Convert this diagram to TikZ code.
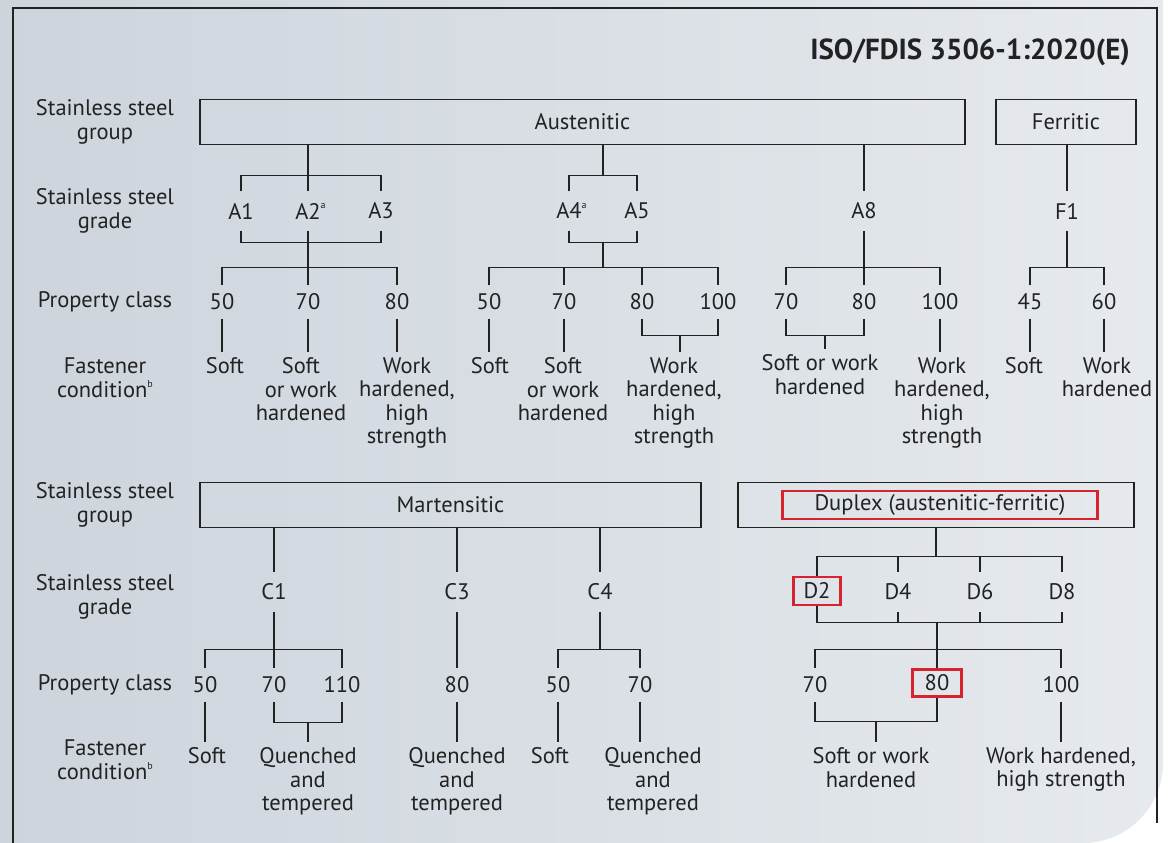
\documentclass[tikz,border=0pt]{standalone}
\usepackage{fontspec}
\setmainfont{PT Sans}
\usetikzlibrary{positioning,calc}
\definecolor{bgleft}{RGB}{205,212,220}
\definecolor{bgright}{RGB}{230,234,238}
\definecolor{ink}{RGB}{34,34,34}
\definecolor{hilite}{RGB}{215,35,45}
\newcommand{\supnote}[1]{\raisebox{0.45em}{\fontsize{10}{10}\selectfont #1}}

\begin{document}
\begin{tikzpicture}[x=1pt,y=-1pt,font=\fontsize{22.5}{23.5}\selectfont,color=ink,line width=1.4pt]
	\tikzstyle{grp}
	  =[draw, rectangle, minimum height=45pt, inner sep=0pt]
	\tikzstyle{grade}=[minimum height=38pt, inner sep=0pt]
	\tikzstyle{pclass}=[minimum height=32pt, inner sep=0pt]
	\tikzstyle{cond}=[anchor=north, align=center, inner xsep=0pt, inner ysep=5pt]
	\tikzstyle{rowlabel}=[align=center]
	\tikzstyle{redbox}=[draw=hilite, line width=2.4pt, inner sep=0pt]

	% page
	\useasboundingbox (0,0) rectangle (1173,843);
	\fill[white] (0,0) rectangle (1173,843);
	\shade[left color=bgleft, right color=bgright] (0,0) -- (1163,0) -- (1163,763)
	  .. controls (1163,807) and (1127,843) .. (1083,843) -- (0,843) -- cycle;
	\draw[line width=1.2pt] (13,843) -- (13,8) -- (1157,8) -- (1157,823);

	\node[anchor=east, font=\fontsize{29}{32}\selectfont\bfseries] (title)
	  at (1134,52) {ISO/FDIS 3506-1:2020(E)};

	% row labels
	\node[rowlabel] (lgroup1) at (105,122) {Stainless steel\\group};
	\node[rowlabel] (lgrade1) at (105,211) {Stainless steel\\grade};
	\node[rowlabel] (lclass1) at (105,302) {Property class};
	\node[rowlabel] (lcond1) at (105,378) {Fastener\\condition\supnote{b}};
	\node[rowlabel] (lgroup2) at (105,505) {Stainless steel\\group};
	\node[rowlabel] (lgrade2) at (105,597) {Stainless steel\\grade};
	\node[rowlabel] (lclass2) at (105,685) {Property class};
	\node[rowlabel] (lcond2) at (105,760) {Fastener\\condition\supnote{b}};

	% groups
	\node[grp, minimum width=765pt] (aust) at (582.5,122) {Austenitic};
	\node[grp, minimum width=140pt] (ferr) at (1066,122) {Ferritic};
	\node[grp, minimum width=501pt] (mart) at (450.5,505) {Martensitic};
	\node[grp, minimum width=396pt] (dup) at (936,505) {};
	\node[redbox, minimum width=315pt, minimum height=28pt] (dupname)
	  at (940,505) {Duplex (austenitic-ferritic)};

	% grades
	\node[grade] (A1) at (241,211) {A1};
	\node[grade] (A2) at (308,211) {A2\rlap{\supnote{a}}};
	\node[grade] (A3) at (381,211) {A3};
	\node[grade] (A4) at (569,211) {A4\rlap{\supnote{a}}};
	\node[grade] (A5) at (637,211) {A5};
	\node[grade] (A8) at (864,211) {A8};
	\node[grade] (F1) at (1067,211) {F1};
	\node[grade] (C1) at (274,592) {C1};
	\node[grade] (C3) at (457,592) {C3};
	\node[grade] (C4) at (600,592) {C4};
	\node[grade, redbox, minimum width=47pt, minimum height=28pt] (D2) at (817,591) {D2};
	\node[grade] (D4) at (898,592) {D4};
	\node[grade] (D6) at (980,592) {D6};
	\node[grade] (D8) at (1062,592) {D8};

	% property classes
	\node[pclass] (a50) at (222,302) {50};
	\node[pclass] (a70) at (308,302) {70};
	\node[pclass] (a80) at (397,302) {80};
	\node[pclass] (b50) at (489,302) {50};
	\node[pclass] (b70) at (564,302) {70};
	\node[pclass] (b80) at (642,302) {80};
	\node[pclass] (b100) at (718,302) {100};
	\node[pclass] (e70) at (786,302) {70};
	\node[pclass] (e80) at (864,302) {80};
	\node[pclass] (e100) at (940,302) {100};
	\node[pclass] (f45) at (1030,302) {45};
	\node[pclass] (f60) at (1104,302) {60};
	\node[pclass] (g50) at (205,685) {50};
	\node[pclass] (g70) at (274,685) {70};
	\node[pclass] (g110) at (342,685) {110};
	\node[pclass] (h80) at (457,685) {80};
	\node[pclass] (k50) at (558,685) {50};
	\node[pclass] (k70) at (640,685) {70};
	\node[pclass] (d70) at (815,685) {70};
	\node[pclass, redbox, minimum width=49pt, minimum height=27pt] (d80) at (937,683) {80};
	\node[pclass] (d100) at (1061,685) {100};

	% fastener conditions
	\node[cond] (ca50) at (225,352) {Soft};
	\node[cond] (ca70) at (301,352) {Soft\\or work\\hardened};
	\node[cond] (ca80) at (407,352) {Work\\hardened,\\high\\strength};
	\node[cond] (cb50) at (490,352) {Soft};
	\node[cond] (cb70) at (563,352) {Soft\\or work\\hardened};
	\node[cond] (cb80) at (674,352) {Work\\hardened,\\high\\strength};
	\node[cond] (ce70) at (820,349) {Soft or work\\hardened};
	\node[cond] (ce100) at (942,352) {Work\\hardened,\\high\\strength};
	\node[cond] (cf45) at (1024,352) {Soft};
	\node[cond] (cf60) at (1107,352) {Work\\hardened};
	\node[cond] (cg50) at (207,742) {Soft};
	\node[cond] (cg70) at (308,742) {Quenched\\and\\tempered};
	\node[cond] (ch80) at (457,742) {Quenched\\and\\tempered};
	\node[cond] (ck50) at (550,742) {Soft};
	\node[cond] (ck70) at (653,742) {Quenched\\and\\tempered};
	\node[cond] (cd70) at (871,742) {Soft or work\\hardened};
	\node[cond] (cd100) at (1061,742) {Work hardened,\\high strength};

	% austenitic A1 A2 A3
	\draw (aust.south -| A2.north) -- (A2.north);
	\draw (A1.north) -- ++(0,-16) -| (A3.north);
	\draw (A1.south) -- ++(0,12) -| (A3.south);
	\draw (A2.south) -- (a70.north);
	\draw (a50.north) -- ++(0,-18) -| (a80.north);
	\draw (a50.south) -- (a50.south |- ca50.north);
	\draw (a70.south) -- (a70.south |- ca70.north);
	\draw (a80.south) -- (a80.south |- ca80.north);

	% austenitic A4 A5
	\coordinate (j45) at ($(A4.north)!0.5!(A5.north)+(0,-16)$);
	\coordinate (k45) at ($(A4.south)!0.5!(A5.south)+(0,12)$);
	\coordinate (kb) at ($(b50.north)+(0,-18)$);
	\draw (j45 |- aust.south) -- (j45);
	\draw (A4.north) -- ++(0,-16) -| (A5.north);
	\draw (A4.south) -- ++(0,12) -| (A5.south);
	\draw (k45) -- (k45 |- kb);
	\draw (b50.north) -- ++(0,-18) -| (b100.north);
	\draw (b70.north) -- ++(0,-18);
	\draw (b80.north) -- ++(0,-18);
	\draw (b50.south) -- (b50.south |- cb50.north);
	\draw (b70.south) -- (b70.south |- cb70.north);
	\draw (b80.south) -- ++(0,17) -| (b100.south);
	\coordinate (k80) at ($(b80.south)!0.5!(b100.south)+(0,17)$);
	\draw (k80) -- (k80 |- cb80.north);

	% austenitic A8
	\draw (aust.south -| A8.north) -- (A8.north);
	\draw (A8.south) -- (e80.north);
	\draw (e70.north) -- ++(0,-18) -| (e100.north);
	\draw (e70.south) -- ++(0,17) -| (e80.south);
	\coordinate (k78) at ($(e70.south)!0.5!(e80.south)+(0,17)$);
	\draw (k78) -- (k78 |- ce70.north);
	\draw (e100.south) -- (e100.south |- ce100.north);

	% ferritic
	\coordinate (kf) at ($(f45.north)!0.5!(f60.north)+(0,-18)$);
	\draw (ferr.south -| F1.north) -- (F1.north);
	\draw (F1.south) -- (F1.south |- kf);
	\draw (f45.north) -- ++(0,-18) -| (f60.north);
	\draw (f45.south) -- (f45.south |- cf45.north);
	\draw (f60.south) -- (f60.south |- cf60.north);

	% martensitic
	\draw (mart.south -| C1.north) -- (C1.north);
	\draw (C1.south) -- (g70.north);
	\draw (g50.north) -- ++(0,-19) -| (g110.north);
	\draw (g50.south) -- (g50.south |- cg50.north);
	\draw (g70.south) -- ++(0,21) -| (g110.south);
	\coordinate (m70) at ($(g70.south)!0.5!(g110.south)+(0,21)$);
	\draw (m70) -- (m70 |- cg70.north);
	\draw (mart.south -| C3.north) -- (C3.north);
	\draw (C3.south) -- (h80.north);
	\draw (h80.south) -- (h80.south |- ch80.north);
	\draw (mart.south -| C4.north) -- (C4.north);
	\coordinate (m4) at ($(k50.north)!0.5!(k70.north)+(0,-19)$);
	\draw (C4.south) -- (C4.south |- m4);
	\draw (k50.north) -- ++(0,-19) -| (k70.north);
	\draw (k50.south) -- (k50.south |- ck50.north);
	\draw (k70.south) -- (k70.south |- ck70.north);

	% duplex
	\coordinate (dtop) at ($(D8.north)+(0,-16)$);
	\coordinate (dbot) at ($(D8.south)+(0,11)$);
	\draw (dup.south) -- (dup.south |- dtop);
	\draw (D8.north) -- ++(0,-16) -| (D2.north);
	\draw (D4.north) -- ++(0,-16);
	\draw (D6.north) -- ++(0,-16);
	\draw (D8.south) -- ++(0,11) -| (D2.south);
	\draw (D4.south) -- ++(0,11);
	\draw (D6.south) -- ++(0,11);
	\draw (dbot -| d80.north) -- (d80.north);
	\draw (d70.north) -- ++(0,-19) -| (d100.north);
	\draw (d70.south) -- ++(0,20) -| (d80.south);
	\coordinate (m78) at ($(d70.south)!0.5!(d80.south |- d70.south)+(0,20)$);
	\draw (m78) -- (m78 |- cd70.north);
	\draw (d100.south) -- (d100.south |- cd100.north);
\end{tikzpicture}
\end{document}
